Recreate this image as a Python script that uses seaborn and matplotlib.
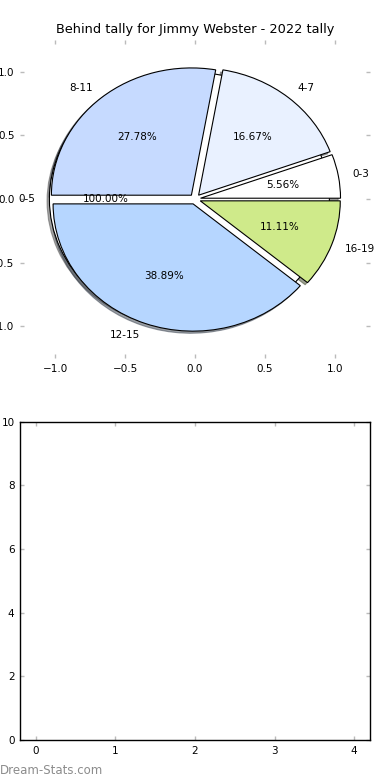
import numpy as np
import pandas as pd
import matplotlib
matplotlib.use('Agg')
import matplotlib.pyplot as plt
import seaborn as sns

# pie data: tally groups and their counts
groups = ['0-3', '4-7', '8-11', '12-15', '16-19']
counts = [1, 3, 5, 7, 2]
slice_colors = ['#ffffff', '#e9f1ff', '#c6daff', '#b6d6ff', '#cfea8a']

# background pie (single group)
back_groups = ['0-5']
back_counts = [1]

df = pd.DataFrame({'group': groups, 'count': counts})

sns.set_theme(style='white', rc={
    'xtick.direction': 'in', 'ytick.direction': 'in',
    'xtick.color': '#bbbbbb', 'ytick.color': '#bbbbbb',
    'xtick.labelcolor': 'black', 'ytick.labelcolor': 'black',
    'text.color': 'black', 'axes.labelcolor': 'black',
    'xtick.major.size': 3, 'ytick.major.size': 3,
    'xtick.major.width': 1, 'ytick.major.width': 1,
    'xtick.top': True, 'ytick.right': True,
    'xtick.bottom': True, 'ytick.left': True,
    'axes.edgecolor': 'black', 'axes.linewidth': 1,
    'xtick.labelsize': 7.5, 'ytick.labelsize': 7.5,
    'xtick.major.pad': 4, 'ytick.major.pad': 4,
})
plt.rcParams['font.family'] = ['DejaVu Sans']

fig, (ax1, ax2) = plt.subplots(2, 1, figsize=(3.9, 7.8), dpi=100)
fig.subplots_adjust(left=0.0513, right=0.9487, top=0.9487, bottom=0.0513, hspace=0.2)

edge = {'edgecolor': 'black', 'linewidth': 0.8}
shade = {'ox': -0.012, 'oy': -0.012}
ax1.pie(back_counts, labels=back_groups, colors=['white'], autopct='%1.2f%%',
        explode=[0.04], shadow=shade, frame=True, wedgeprops=edge,
        textprops={'fontsize': 7.5, 'color': 'black'})
ax1.pie(df['count'], labels=df['group'], colors=slice_colors, autopct='%1.2f%%',
        explode=[0.04] * len(groups), shadow=shade, frame=True, wedgeprops=edge,
        textprops={'fontsize': 7.5, 'color': 'black'})
ax1.set_aspect('auto')
ax1.set_xlim(-1.25, 1.25)
ax1.set_ylim(-1.25, 1.25)
ax1.set_xticks([-1.0, -0.5, 0.0, 0.5, 1.0])
ax1.set_yticks([-1.0, -0.5, 0.0, 0.5, 1.0])
for s in ax1.spines.values():
    s.set_visible(False)
ax1.set_title('Behind tally for Jimmy Webster - 2022 tally', fontsize=9.3, pad=5)

# empty second panel
ax2.set_xlim(-0.2, 4.2)
ax2.set_ylim(0, 10)
ax2.set_xticks(range(0, 5))
ax2.set_yticks(range(0, 11, 2))

fig.text(0.0, 0.004, 'Dream-Stats.com', color='#8c8c8c', fontsize=8.5,
         ha='left', va='bottom')

plt.savefig('out.png', dpi=100)
